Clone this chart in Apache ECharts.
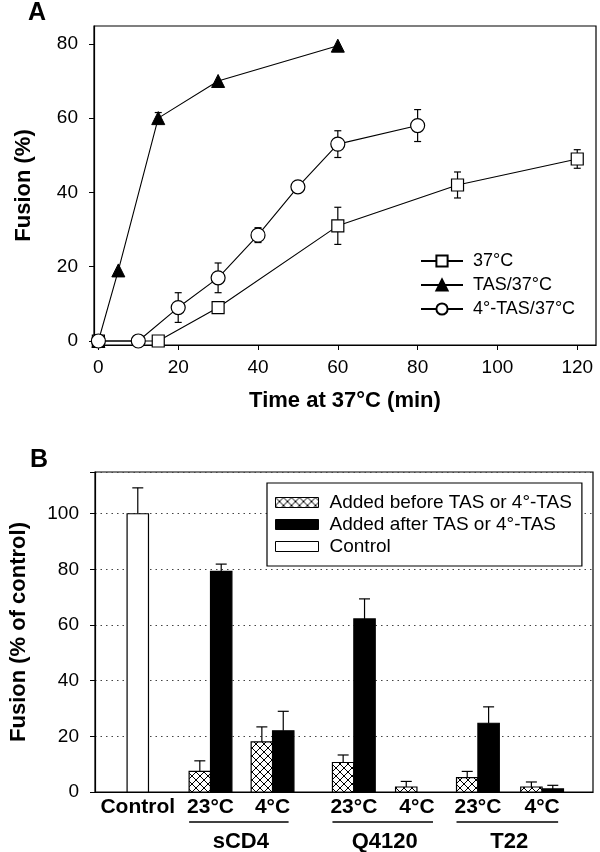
<!DOCTYPE html>
<html><head><meta charset="utf-8">
<script src="https://cdn.jsdelivr.net/npm/echarts@6/dist/echarts.min.js"></script>
<style>html,body{margin:0;padding:0;background:#fff}#c{width:600px;height:852px}</style>
</head><body><div id="c"></div>
<script>
// ---------- Panel A data ----------
const timeTicksA = [0, 20, 40, 60, 80, 100, 120];
const fusionTicksA = [0, 20, 40, 60, 80];
const s37Time = [0, 15, 30, 60, 90, 120];
const s37Val  = [0, 0, 9, 31, 42, 49];
const s37Err  = [0, 0, 0, 5, 3.5, 2.5];
const tasTime = [0, 5, 15, 30, 60];
const tasVal  = [0, 19, 60, 70, 79.5];
const tasErr  = [0, 0, 1.5, 0, 0];
const coldTime = [0, 10, 20, 30, 40, 50, 60, 80];
const coldVal  = [0, 0, 9, 17, 28.5, 41.5, 53, 58];
const coldErr  = [0, 0, 4, 4, 2, 0, 3.6, 4.3];
const namesA = ['37°C', 'TAS/37°C', '4°-TAS/37°C'];

// ---------- Panel B data ----------
const bLabels = ['Control', '23°C', '4°C', '23°C', '4°C', '23°C', '4°C'];
const bGroups = ['', 'sCD4', 'sCD4', 'Q4120', 'Q4120', 'T22', 'T22'];
const controlVal = [100, null, null, null, null, null, null];
const controlErr = [9.3, 0, 0, 0, 0, 0, 0];
const beforeVal = [null, 7.4, 18, 10.6, 1.8, 5.2, 1.8];
const beforeErr = [0, 3.8, 5.4, 2.7, 2.0, 2.2, 1.8];
const afterVal  = [null, 79.3, 22, 62.2, 0, 24.7, 1.1];
const afterErr  = [0, 2.6, 7.0, 7.2, 0, 5.9, 1.3];
const namesB = ['Added before TAS or 4°-TAS', 'Added after TAS or 4°-TAS', 'Control'];
// category slot positions along the B axis (in bar-width units)
const slotPos = [2, 5.4, 8.3, 12.1, 15.05, 17.9, 20.9];

const FONT = '"Liberation Sans", Arial, Helvetica, sans-serif';

// cross-hatch pattern
const pc = document.createElement('canvas');
pc.width = 8; pc.height = 8;
const g = pc.getContext('2d');
g.fillStyle = '#fff'; g.fillRect(0, 0, 8, 8);
g.strokeStyle = '#000'; g.lineWidth = 1;
g.beginPath(); g.moveTo(0, 0); g.lineTo(8, 8); g.moveTo(8, 0); g.lineTo(0, 8); g.stroke();
const hatch = { image: pc, repeat: 'repeat' };

function zip3(a, b, c) { return a.map((v, i) => [v, b[i], c[i]]); }

function errA(params, api) {
  const x = api.value(0), y = api.value(1), e = api.value(2);
  if (!e) return null;
  const top = api.coord([x, y + e]), bot = api.coord([x, y - e]);
  const st = { stroke: '#000', lineWidth: 1.2 };
  return { type: 'group', children: [
    { type: 'line', shape: { x1: top[0], y1: top[1], x2: bot[0], y2: bot[1] }, style: st },
    { type: 'line', shape: { x1: top[0] - 3.5, y1: top[1], x2: top[0] + 3.5, y2: top[1] }, style: st },
    { type: 'line', shape: { x1: bot[0] - 3.5, y1: bot[1], x2: bot[0] + 3.5, y2: bot[1] }, style: st }
  ]};
}

function barB(offset, fill) {
  return function (params, api) {
    const x = api.value(0) + offset, y = api.value(1), e = api.value(2);
    if (y == null || isNaN(y)) return null;
    const p0 = api.coord([x - 0.5, y]);
    const p1 = api.coord([x + 0.5, 0]);
    const ch = [];
    const st = { stroke: '#000', lineWidth: 1.2 };
    if (e > 0) {
      const t = api.coord([x, y + e]);
      ch.push({ type: 'line', shape: { x1: t[0], y1: p0[1], x2: t[0], y2: t[1] }, style: st });
      ch.push({ type: 'line', shape: { x1: t[0] - 5.5, y1: t[1], x2: t[0] + 5.5, y2: t[1] }, style: st });
    }
    if (y > 0) {
      ch.push({ type: 'rect', shape: { x: p0[0], y: p0[1], width: p1[0] - p0[0], height: p1[1] - p0[1] },
        style: { fill: fill, stroke: '#000', lineWidth: 1.2 } });
    }
    return { type: 'group', children: ch };
  };
}

// group underline + label data
const groupNames = [...new Set(bGroups.filter(s => s))];
const groupData = groupNames.map(n => {
  const idx = bGroups.map((s, i) => s === n ? i : -1).filter(i => i >= 0);
  return [slotPos[idx[0]] - 1.0, slotPos[idx[idx.length - 1]] + 0.75, n];
});

const lineCommon = { type: 'line', xAxisIndex: 0, yAxisIndex: 0, z: 5,
  lineStyle: { color: '#000', width: 1.1 }, itemStyle: { borderColor: '#000', borderWidth: 1.2 } };

const titleStyle = { fontFamily: FONT, fontSize: 22, fontWeight: 'bold', color: '#000' };

const option = {
  animation: false,
  backgroundColor: '#fff',
  textStyle: { fontFamily: FONT, color: '#000' },
  title: [
    { text: 'A', left: 28, top: 1, padding: 0, textStyle: { fontFamily: FONT, fontSize: 25, fontWeight: 'bold', color: '#000' } },
    { text: 'B', left: 30, top: 448, padding: 0, textStyle: { fontFamily: FONT, fontSize: 25, fontWeight: 'bold', color: '#000' } }
  ],
  grid: [
    { left: 94, top: 26, width: 502, height: 319, show: true, borderColor: '#000', borderWidth: 1.2, backgroundColor: 'transparent' },
    { left: 89, top: 472, width: 504, height: 320, show: true, borderColor: '#000', borderWidth: 1.2, backgroundColor: 'transparent' }
  ],
  legend: [
    { data: namesA.map(n => ({ name: n })), orient: 'vertical', left: 420, top: 252, padding: 0,
      itemWidth: 42, itemHeight: 14, itemGap: 6, selectedMode: false,
      textStyle: { fontFamily: FONT, fontSize: 18, color: '#000', lineHeight: 18, padding: [0, 0, 0, 5] } },
    { data: [
        { name: namesB[0], icon: 'rect', itemStyle: { color: hatch, borderColor: '#000', borderWidth: 1 } },
        { name: namesB[1], icon: 'rect', itemStyle: { color: '#000', borderColor: '#000', borderWidth: 1 } },
        { name: namesB[2], icon: 'rect', itemStyle: { color: '#fff', borderColor: '#000', borderWidth: 1 } }
      ],
      orient: 'vertical', left: 267, top: 483, padding: [10, 10, 10, 8],
      itemWidth: 43, itemHeight: 10, itemGap: 3, selectedMode: false,
      backgroundColor: '#fff', borderColor: '#000', borderWidth: 1.2,
      textStyle: { fontFamily: FONT, fontSize: 19, color: '#000', lineHeight: 19, padding: [0, 0, 0, 6] } }
  ],
  xAxis: [
    { gridIndex: 0, type: 'value', min: -1.1, max: 124.7,
      name: 'Time at 37°C (min)', nameLocation: 'middle', nameGap: 45, nameTextStyle: titleStyle,
      axisLine: { show: true, onZero: false, lineStyle: { color: '#000', width: 1.2 } },
      axisTick: { show: true, inside: false, length: 5, customValues: timeTicksA, lineStyle: { color: '#000' } },
      axisLabel: { customValues: timeTicksA, margin: 13, fontFamily: FONT, fontSize: 19, color: '#000' },
      splitLine: { show: false } },
    { gridIndex: 1, type: 'value', min: 0, max: 23.28,
      axisLine: { show: true, onZero: false, lineStyle: { color: '#000', width: 1.2 } },
      axisTick: { show: false },
      axisLabel: { customValues: slotPos, margin: 5, fontFamily: FONT, fontSize: 21, fontWeight: 'bold', color: '#000',
        formatter: function (v) {
          let best = 0;
          slotPos.forEach((p, i) => { if (Math.abs(p - v) < Math.abs(slotPos[best] - v)) best = i; });
          return bLabels[best];
        } },
      splitLine: { show: false } }
  ],
  yAxis: [
    { gridIndex: 0, type: 'value', min: -1.08, max: 84.8,
      name: 'Fusion (%)', nameLocation: 'middle', nameGap: 59, nameRotate: 90, nameTextStyle: titleStyle,
      axisLine: { show: true, onZero: false, lineStyle: { color: '#000', width: 1.2 } },
      axisTick: { show: true, inside: false, length: 5, customValues: fusionTicksA, lineStyle: { color: '#000' } },
      axisLabel: { customValues: fusionTicksA, margin: 16, fontFamily: FONT, fontSize: 19, color: '#000' },
      splitLine: { show: false } },
    { gridIndex: 1, type: 'value', min: 0, max: 115, interval: 20,
      name: 'Fusion (% of control)', nameLocation: 'middle', nameGap: 65, nameRotate: 90, nameTextStyle: titleStyle,
      axisLine: { show: true, onZero: false, lineStyle: { color: '#000', width: 1.2 } },
      axisTick: { show: true, inside: false, length: 5, lineStyle: { color: '#000' } },
      axisLabel: { margin: 16, fontFamily: FONT, fontSize: 19, color: '#000',
        formatter: v => (v > 100 ? '' : String(v)) },
      splitLine: { show: true, lineStyle: { type: [1.5, 4], color: '#444', width: 1 } } }
  ],
  series: [
    // Panel A error bars
    { type: 'custom', xAxisIndex: 0, yAxisIndex: 0, z: 2, renderItem: errA, data: zip3(s37Time, s37Val, s37Err), silent: true },
    { type: 'custom', xAxisIndex: 0, yAxisIndex: 0, z: 2, renderItem: errA, data: zip3(tasTime, tasVal, tasErr), silent: true },
    { type: 'custom', xAxisIndex: 0, yAxisIndex: 0, z: 2, renderItem: errA, data: zip3(coldTime, coldVal, coldErr), silent: true },
    // Panel A lines
    Object.assign({}, lineCommon, { name: namesA[0], symbol: 'rect', symbolSize: 12,
      itemStyle: { color: '#fff', borderColor: '#000', borderWidth: 1.2 },
      data: s37Time.map((t, i) => [t, s37Val[i]]) }),
    Object.assign({}, lineCommon, { name: namesA[1], symbol: 'triangle', symbolSize: 13,
      itemStyle: { color: '#000', borderColor: '#000', borderWidth: 1 },
      data: tasTime.map((t, i) => [t, tasVal[i]]) }),
    Object.assign({}, lineCommon, { name: namesA[2], symbol: 'circle', symbolSize: 14,
      itemStyle: { color: '#fff', borderColor: '#000', borderWidth: 1.2 },
      data: coldTime.map((t, i) => [t, coldVal[i]]) }),
    // Panel B bars
    { name: namesB[0], type: 'custom', xAxisIndex: 1, yAxisIndex: 1, z: 3,
      itemStyle: { color: hatch, borderColor: '#000' },
      renderItem: barB(-0.5, hatch), data: zip3(slotPos, beforeVal, beforeErr) },
    { name: namesB[1], type: 'custom', xAxisIndex: 1, yAxisIndex: 1, z: 3,
      itemStyle: { color: '#000', borderColor: '#000' },
      renderItem: barB(0.5, '#000'), data: zip3(slotPos, afterVal, afterErr) },
    { name: namesB[2], type: 'custom', xAxisIndex: 1, yAxisIndex: 1, z: 3,
      itemStyle: { color: '#fff', borderColor: '#000' },
      renderItem: barB(0, '#fff'), data: zip3(slotPos, controlVal, controlErr) },
    // Group underlines and names
    { type: 'custom', xAxisIndex: 1, yAxisIndex: 1, z: 3, silent: true, clip: false,
      renderItem: function (params, api) {
        const a = api.coord([api.value(0), 0]), b = api.coord([api.value(1), 0]);
        const name = groupData[params.dataIndex][2];
        return { type: 'group', children: [
          { type: 'line', shape: { x1: a[0], y1: a[1] + 30, x2: b[0], y2: a[1] + 30 }, style: { stroke: '#000', lineWidth: 1.6 } },
          { type: 'text', x: (a[0] + b[0]) / 2 + 2, y: a[1] + 49.5,
            style: { text: name, fill: '#000', font: 'bold 22px ' + FONT, align: 'center', verticalAlign: 'middle' } }
        ]};
      },
      data: groupData.map(d => [d[0], d[1]]) }
  ]
};

const chart = echarts.init(document.getElementById('c'), null, { renderer: 'canvas' });
chart.setOption(option);
</script>
</body></html>
